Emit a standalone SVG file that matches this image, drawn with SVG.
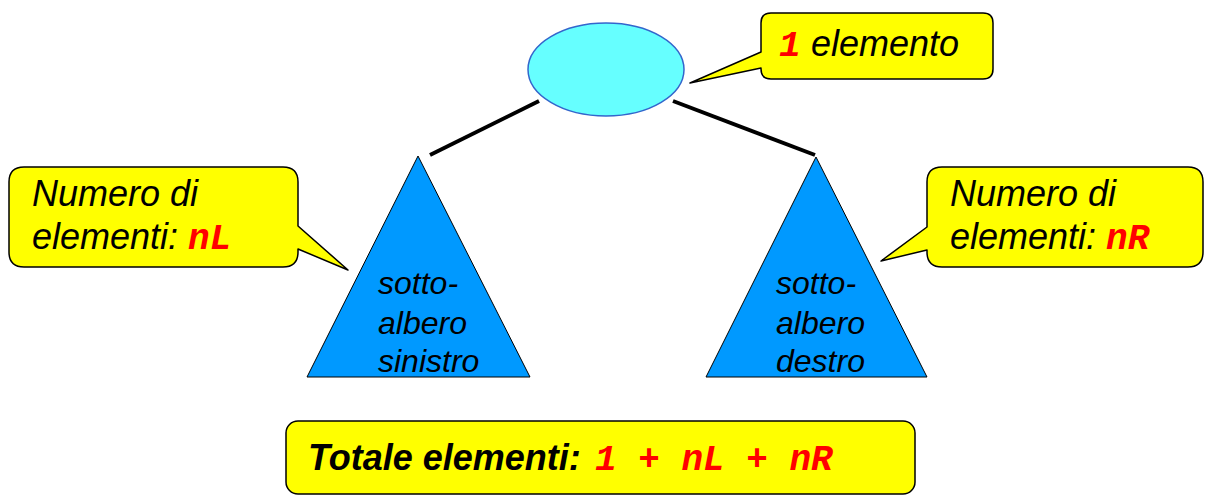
<svg xmlns="http://www.w3.org/2000/svg" width="1205" height="495" viewBox="0 0 1205 495">
<style>
.call{fill:#FFFF00;stroke:#000;stroke-width:1.5;stroke-linejoin:round}
.tri{fill:#0099FF;stroke:#000;stroke-width:1}
.t{font-family:"Liberation Sans",Arial,sans-serif;font-style:italic;fill:#000}
.c{font-family:"Liberation Mono","Courier New",monospace;font-weight:bold;font-style:italic;fill:#FF0000}
.edge{stroke:#000;stroke-width:4;fill:none}
</style>
<rect width="1205" height="495" fill="#fff"/>
<g id="connectors">
<line class="edge" x1="430" y1="155" x2="539" y2="101"/>
<line class="edge" x1="673" y1="101" x2="815" y2="155"/>
</g>
<g id="root">
<ellipse cx="606" cy="69.5" rx="78" ry="46.5" fill="#66FFFF" stroke="#3366CC" stroke-width="1.5"/>
</g>
<g id="left-subtree">
<polygon class="tri" points="418,156 530,377 307,377"/>
<text class="t" font-size="32"><tspan x="378" y="294">sotto-</tspan><tspan x="378" y="334">albero</tspan><tspan x="378" y="372">sinistro</tspan></text>
</g>
<g id="right-subtree">
<polygon class="tri" points="816,157 927,377 706,377"/>
<text class="t" font-size="32"><tspan x="776" y="294">sotto-</tspan><tspan x="776" y="334">albero</tspan><tspan x="776" y="372">destro</tspan></text>
</g>
<g id="callout-root">
<path class="call" d="M771,13 H983 Q993,13 993,23 V69 Q993,79 983,79 H771 Q761,79 761,69 V68 L690,83 L761,52 V23 Q761,13 771,13 Z"/>
<text font-size="36" y="56"><tspan class="c" x="779">1</tspan><tspan class="t" x="811">elemento</tspan></text>
</g>
<g id="callout-left">
<path class="call" d="M24,167 H283 Q298,167 298,182 V226 L348,270 L298,249 V252 Q298,267 283,267 H24 Q9,267 9,252 V182 Q9,167 24,167 Z"/>
<text class="t" font-size="36"><tspan x="32" y="206">Numero di</tspan><tspan x="32" y="249">elementi: </tspan><tspan class="c">nL</tspan></text>
</g>
<g id="callout-right">
<path class="call" d="M942,167 H1188 Q1203,167 1203,182 V252 Q1203,267 1188,267 H942 Q927,267 927,252 V250 L881,261 L927,227 V182 Q927,167 942,167 Z"/>
<text class="t" font-size="36"><tspan x="950" y="206">Numero di</tspan><tspan x="950" y="249">elementi: </tspan><tspan class="c">nR</tspan></text>
</g>
<g id="total">
<rect class="call" x="286" y="421" width="629" height="73" rx="12"/>
<text font-size="36" y="470"><tspan class="t" font-weight="bold" x="308">Totale elementi: </tspan><tspan class="c" x="595">1 + nL + nR</tspan></text>
</g>
</svg>
